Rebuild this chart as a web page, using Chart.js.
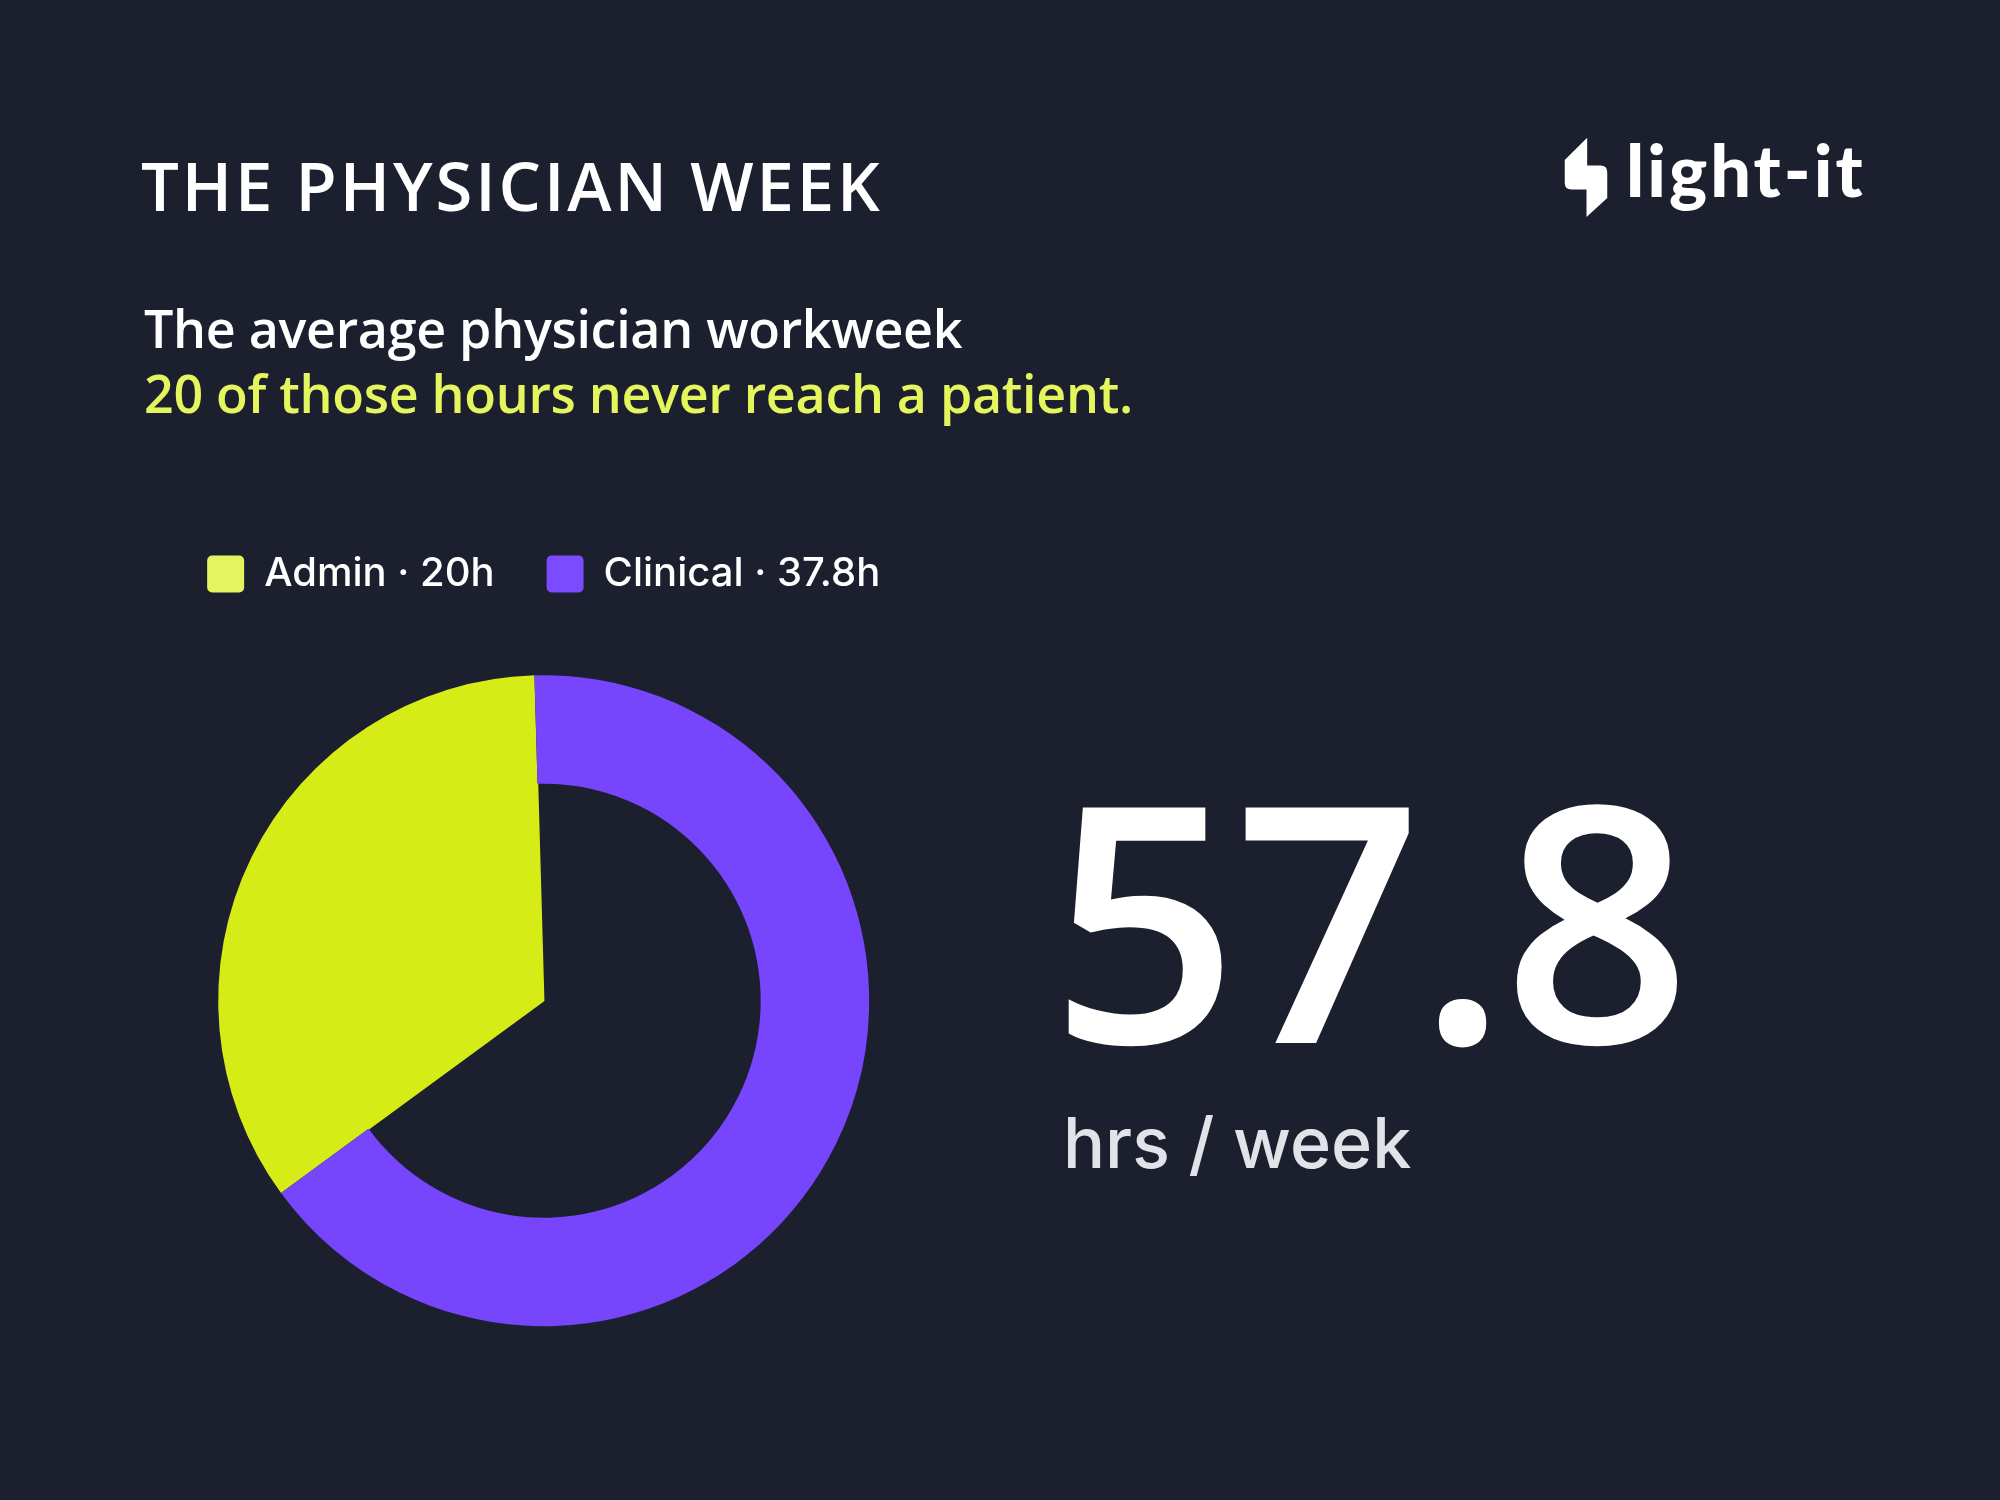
<!DOCTYPE html>
<html>
<head>
<meta charset="utf-8">
<script src="https://cdn.jsdelivr.net/npm/chart.js@4.4.1/dist/chart.umd.min.js"></script>
<style>
  html, body { margin: 0; padding: 0; }
  body { width: 2000px; height: 1500px; background: #1c1f2e; position: relative; overflow: hidden; color: #fff; }
  .txt { position: absolute; white-space: nowrap; line-height: 1; }
  #title { left: 141px; top: 152px; font-family: "Open Sans", sans-serif; font-size: 67px; font-weight: 600; letter-spacing: 2.9px; }
  #sub1 { left: 144px; top: 302px; font-family: "Open Sans", sans-serif; font-size: 52px; font-weight: 600; letter-spacing: -0.3px; }
  #sub2 { left: 144px; top: 367px; font-family: "Open Sans", sans-serif; font-size: 52px; font-weight: 600; letter-spacing: -0.3px; color: #e4f55e; }
  #big { left: 1050px; top: 750px; font-family: "Open Sans", sans-serif; font-size: 330px; font-weight: 600; letter-spacing: -5px; }
  #unit { left: 1063px; top: 1108px; font-family: Inter, sans-serif; font-size: 70px; font-weight: 500; color: #e1e3e8; }
  #logo { left: 1563px; top: 136px; width: 47px; height: 82px; position: absolute; }
  #logotxt { left: 1626px; top: 133px; font-family: Lato, sans-serif; font-size: 72px; font-weight: 900; letter-spacing: 3px; }
  #wrap { position: absolute; left: 0; top: 480px; width: 1000px; height: 960px; }
</style>
</head>
<body>
<div class="txt" id="title">THE PHYSICIAN WEEK</div>
<div class="txt" id="sub1">The average physician workweek</div>
<div class="txt" id="sub2">20 of those hours never reach a patient.</div>
<svg id="logo" viewBox="100 80 140 245"><path d="M172 85 L172 168 L212 168 Q232 168 232 188 L232 265 L170 322 L170 240 L125 240 Q105 240 105 220 L105 152 Z" fill="#fff"/></svg>
<div class="txt" id="logotxt">light-it</div>
<div class="txt" id="big">57.8</div>
<div class="txt" id="unit">hrs / week</div>
<div id="wrap"><canvas id="donut"></canvas></div>
<script>
// data
const categories = ["Admin", "Clinical"];
const hours = [20, 37.8];
const legendLabels = ["Admin · 20h", "Clinical · 37.8h"];

const sliceColors = ["#d6ec17", "#7745fc"];
const legendColors = ["#e3f45e", "#7a4bff"];

new Chart(document.getElementById("donut"), {
    type: "doughnut",
    data: {
        labels: categories,
        datasets: [
            {   // outer ring: both slices
                data: hours,
                backgroundColor: sliceColors,
                borderWidth: 0,
                weight: 1
            },
            {   // inner part: admin slice runs to the centre
                data: hours,
                backgroundColor: [sliceColors[0], "rgba(0,0,0,0)"],
                borderColor: [sliceColors[0], "rgba(0,0,0,0)"],
                borderWidth: 1.5,
                weight: 2
            }
        ]
    },
    options: {
        responsive: true,
        maintainAspectRatio: false,
        animation: false,
        events: [],
        cutout: 0,
        radius: 325.5,
        rotation: 233.8,
        layout: { padding: { left: 153.7, right: 66.3, top: 22, bottom: 42.6 } },
        plugins: {
            tooltip: { enabled: false },
            legend: {
                position: "top",
                align: "center",
                labels: {
                    color: "#ffffff",
                    font: { family: "Inter", size: 40, weight: "500" },
                    boxWidth: 37,
                    boxHeight: 37,
                    padding: 52,
                    generateLabels: chart => legendLabels.map((t, i) => ({
                        text: t,
                        fillStyle: legendColors[i],
                        strokeStyle: legendColors[i],
                        lineWidth: 0,
                        borderRadius: 5,
                        fontColor: "#ffffff",
                        index: i
                    }))
                }
            }
        }
    }
});
</script>
</body>
</html>
